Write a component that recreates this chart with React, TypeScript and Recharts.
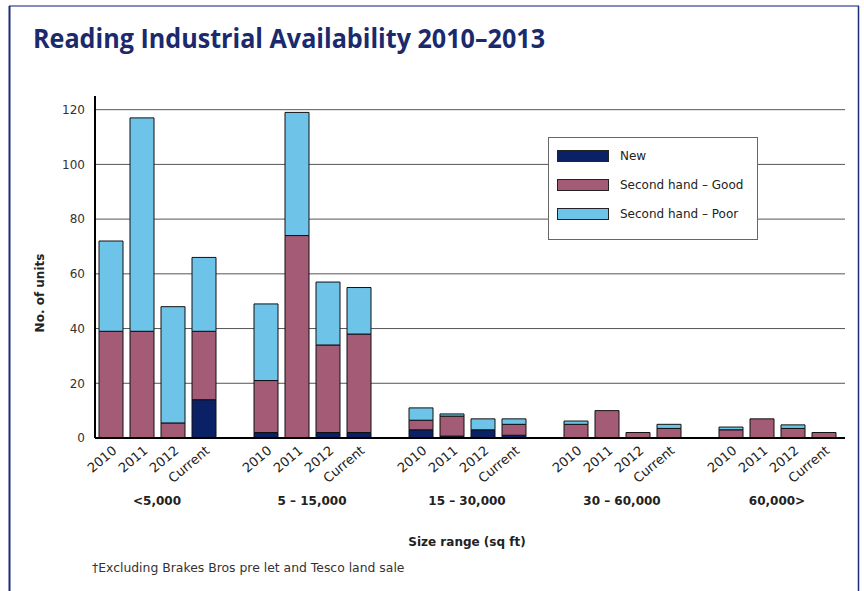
import React from 'react';
import { BarChart, Bar, XAxis, YAxis, CartesianGrid } from 'recharts';

const sizeRanges = ['<5,000', '5 – 15,000', '15 – 30,000', '30 – 60,000', '60,000>'];
const periods = ['2010', '2011', '2012', 'Current'];
const newUnits = [
  [0, 0, 0, 14],
  [2, 0, 2, 2],
  [3, 0.7, 3, 1],
  [0, 0, 0, 0],
  [0, 0, 0, 0],
];
const goodUnits = [
  [39, 39, 5.5, 25],
  [19, 74, 32, 36],
  [3.5, 7.3, 0, 4],
  [5, 10, 2, 3.5],
  [3, 7, 3.5, 2],
];
const poorUnits = [
  [33, 78, 42.5, 27],
  [28, 45, 23, 17],
  [4.5, 0.8, 4, 2],
  [1.2, 0, 0, 1.5],
  [1, 0, 1.3, 0],
];
const yTicks = [0, 20, 40, 60, 80, 100, 120];
const yMax = 125;
const seriesNames = ['New', 'Second hand – Good', 'Second hand – Poor'];
const seriesColors = ['#0b2166', '#a35b76', '#6ec4e8'];
const seriesKeys = ['newU', 'good', 'poor'];

type Row = { id: string; label: string; group: number; pos: number; newU?: number; good?: number; poor?: number };
const data: Row[] = [];
sizeRanges.forEach((g, gi) => {
  periods.forEach((p, pi) => {
    data.push({ id: `${gi}-${pi}`, label: p, group: gi, pos: pi, newU: newUnits[gi][pi], good: goodUnits[gi][pi], poor: poorUnits[gi][pi] });
  });
  if (gi < sizeRanges.length - 1) data.push({ id: `gap-${gi}`, label: '', group: gi, pos: -1 });
});
const rowById: Record<string, Row> = {};
data.forEach((d) => { rowById[d.id] = d; });

const FONT = '"DejaVu Sans", sans-serif';
const TITLE_FONT = '"Open Sans", "DejaVu Sans", sans-serif';
const HALF_SLOT = 15.5;

const YearTick = (props: any) => {
  const { x, y, payload } = props;
  const row = rowById[payload.value];
  if (!row || !row.label) return <g />;
  return (
    <g>
      <g transform={`translate(${x + 7},${y + 14}) rotate(-40)`}>
        <text x={0} y={0} textAnchor="end" fontSize={13} fill="#222" fontFamily={FONT}>{row.label}</text>
      </g>
      {row.pos === 1 && (
        <text x={x + HALF_SLOT} y={y + 67} textAnchor="middle" fontSize={12} fontWeight="bold" fill="#222" fontFamily={FONT}>
          {sizeRanges[row.group]}
        </text>
      )}
    </g>
  );
};

const gridRows = (args: any) => {
  try {
    const s = args && args.yAxis && args.yAxis.scale;
    let f: ((v: number) => number) | null = null;
    if (typeof s === 'function') f = (v: number) => s(v);
    else if (s && typeof s.map === 'function') f = (v: number) => s.map(v);
    if (f) {
      const r = yTicks.filter((t) => t > 0).map((t) => f!(t));
      if (r.every((v) => typeof v === 'number' && isFinite(v))) return r;
    }
  } catch (e) {
    /* fall through */
  }
  const off = (args && args.offset) || { top: 96, height: 342 };
  return yTicks.filter((t) => t > 0).map((t) => off.top + off.height * (1 - t / yMax));
};

export default function App() {
  return (
    <div style={{ position: 'absolute', left: 0, top: 0, width: 864, height: 591, background: '#fff', fontFamily: FONT }}>
      <BarChart width={864} height={591} data={data} margin={{ top: 96, right: 19, left: 35, bottom: 73 }} barSize={24}>
        <CartesianGrid vertical={false} stroke="#555" strokeWidth={1} horizontalCoordinatesGenerator={gridRows} />
        <XAxis
          dataKey="id"
          type="category"
          interval={0}
          tick={<YearTick />}
          tickLine={false}
          tickSize={0}
          tickMargin={0}
          height={80}
          padding={{ left: 0, right: 6 }}
          axisLine={{ stroke: '#000', strokeWidth: 2 }}
        />
        <YAxis
          domain={[0, yMax]}
          ticks={yTicks}
          interval={0}
          width={60}
          tickLine={false}
          tickSize={0}
          tickMargin={10}
          axisLine={{ stroke: '#000', strokeWidth: 2 }}
          tick={{ fontSize: 12, fill: '#333', fontFamily: FONT }}
        />
        {seriesKeys.map((k, i) => (
          <Bar key={k} dataKey={k} name={seriesNames[i]} stackId="a" fill={seriesColors[i]} stroke="#111" strokeWidth={1} isAnimationActive={false} />
        ))}
      </BarChart>

      <div
        style={{
          position: 'absolute', left: 548, top: 137, width: 210, height: 103, boxSizing: 'border-box',
          border: '1px solid #666', background: '#fff',
        }}
      >
        {seriesNames.map((n, i) => (
          <div key={n} style={{ position: 'absolute', left: 8, top: 11 + i * 29, height: 14, display: 'flex', alignItems: 'center' }}>
            <div style={{ width: 52, height: 12, boxSizing: 'border-box', border: '1px solid #222', background: seriesColors[i] }} />
            <span style={{ marginLeft: 11, fontSize: 12, color: '#222', whiteSpace: 'nowrap' }}>{n}</span>
          </div>
        ))}
      </div>

      <svg width={864} height={591} style={{ position: 'absolute', left: 0, top: 0, pointerEvents: 'none' }}>
        <line x1={9} y1={6} x2={859} y2={6} stroke="#5a68a8" strokeWidth={1.5} />
        <line x1={9.5} y1={6} x2={9.5} y2={591} stroke="#1f2a78" strokeWidth={2} />
        <line x1={858.5} y1={6} x2={858.5} y2={591} stroke="#1f2a78" strokeWidth={1.5} />
        <text x={33} y={48} fontSize={26} fontWeight="bold" fill="#1a2a6c" fontFamily={TITLE_FONT} textLength={512} lengthAdjust="spacingAndGlyphs">
          Reading Industrial Availability 2010–2013
        </text>
        <text x={0} y={0} transform="translate(43.5,293) rotate(-90)" textAnchor="middle" fontSize={12} fontWeight="bold" fill="#222" fontFamily={FONT}>
          No. of units
        </text>
        <text x={467} y={546} textAnchor="middle" fontSize={12} fontWeight="bold" fill="#222" fontFamily={FONT}>
          Size range (sq ft)
        </text>
        <text x={92} y={572} fontSize={12.4} fill="#333" fontFamily={FONT}>
          †Excluding Brakes Bros pre let and Tesco land sale
        </text>
      </svg>
    </div>
  );
}
